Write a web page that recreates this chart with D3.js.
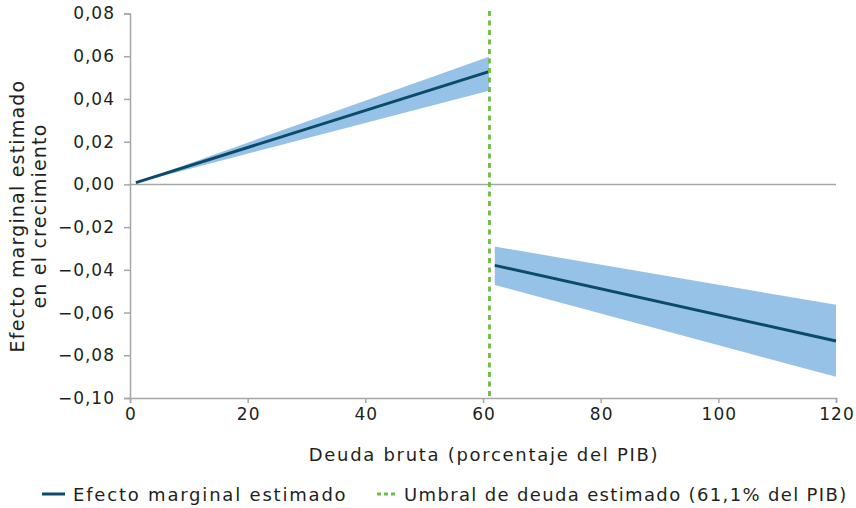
<!DOCTYPE html>
<html>
<head>
<meta charset="utf-8">
<script src="https://cdn.jsdelivr.net/npm/d3@7"></script>
<style>
  html, body { margin: 0; padding: 0; background: #fff; }
  svg { display: block; font-family: "DejaVu Sans", sans-serif; }
</style>
</head>
<body>
<svg id="chart" width="856" height="508"></svg>
<script>
// Estimated marginal effect of gross debt on growth, two regimes split at the threshold
const debtBelow = [1, 61];          // debt (% of GDP), segment below threshold
const effectBelow = [0.0008, 0.0528];
const lowerBelow = [0.0007, 0.0438];
const upperBelow = [0.0009, 0.0598];

const debtAbove = [62, 120];        // debt (% of GDP), segment above threshold
const effectAbove = [-0.0379, -0.0733];
const lowerAbove = [-0.0471, -0.0901];
const upperAbove = [-0.0291, -0.0564];

const threshold = 61.1;

const xTicks = [0, 20, 40, 60, 80, 100, 120];
const yTicks = [0.08, 0.06, 0.04, 0.02, 0.00, -0.02, -0.04, -0.06, -0.08, -0.10];

const legendLabels = ["Efecto marginal estimado", "Umbral de deuda estimado (61,1% del PIB)"];

const colors = { line: "#0b4a6a", band: "#97c2e7", threshold: "#6cbd45", axis: "#a6a6a6", text: "#231f20" };
const fontFamily = "\"DejaVu Sans\", sans-serif";

const svg = d3.select("#chart");
const x = d3.scaleLinear().domain([0, 120]).range([130, 836]);
const y = d3.scaleLinear().domain([-0.10, 0.08]).range([398, 13.5]);

const fmt = v => d3.format(".2f")(v).replace(".", ",").replace("-", "\u2212");

function segment(debt, eff, lo, hi) {
  return debt.map((d, i) => ({ x: d, y: eff[i], lo: lo[i], hi: hi[i] }));
}
const segments = [
  segment(debtBelow, effectBelow, lowerBelow, upperBelow),
  segment(debtAbove, effectAbove, lowerAbove, upperAbove)
];

// confidence bands
const area = d3.area().x(d => x(d.x)).y0(d => y(d.lo)).y1(d => y(d.hi));
svg.selectAll("path.band").data(segments).join("path")
  .attr("class", "band").attr("d", area).attr("fill", colors.band);

// zero line
svg.append("line")
  .attr("x1", x(0)).attr("x2", x(120)).attr("y1", y(0)).attr("y2", y(0))
  .attr("stroke", colors.axis).attr("stroke-width", 1.5);

// y axis
const yAxis = svg.append("g").attr("transform", `translate(${x(0)},0)`)
  .call(d3.axisLeft(y).tickValues(yTicks).tickSize(6).tickPadding(10).tickFormat(fmt));
// x axis
const xAxis = svg.append("g").attr("transform", `translate(0,${y(-0.10)})`)
  .call(d3.axisBottom(x).tickValues(xTicks).tickSize(5).tickPadding(5).tickFormat(d3.format("d")));

[yAxis, xAxis].forEach(g => {
  g.select(".domain").attr("stroke", colors.axis).attr("stroke-width", 1.5);
  g.selectAll(".tick line").attr("stroke", colors.axis).attr("stroke-width", 1.5);
  g.selectAll(".tick text").attr("fill", colors.text).style("font-size", "17px")
    .style("letter-spacing", "1px").style("font-family", fontFamily);
});
// keep x tick labels centred despite the trailing letter spacing
xAxis.selectAll(".tick text").attr("dx", "0.5px");
yAxis.selectAll(".tick text").attr("dx", "1px");

// estimated effect lines
const line = d3.line().x(d => x(d.x)).y(d => y(d.y));
svg.selectAll("path.effect").data(segments).join("path")
  .attr("class", "effect").attr("d", line).attr("fill", "none")
  .attr("stroke", colors.line).attr("stroke-width", 3);

// threshold
svg.append("line")
  .attr("x1", x(threshold)).attr("x2", x(threshold)).attr("y1", 11).attr("y2", y(-0.10))
  .attr("stroke", colors.threshold).attr("stroke-width", 2.8).attr("stroke-dasharray", "5,4.5");

// axis titles
svg.append("text").attr("x", x(60) + 1).attr("y", 461).attr("text-anchor", "middle")
  .attr("fill", colors.text).style("font-size", "18px").style("letter-spacing", "1.7px")
  .text("Deuda bruta (porcentaje del PIB)");

const yTitle = svg.append("text").attr("transform", "translate(0,216) rotate(-90)")
  .attr("text-anchor", "middle").attr("fill", colors.text)
  .style("font-size", "19px").style("letter-spacing", "1.2px");
yTitle.append("tspan").attr("x", 0).attr("y", 24).text("Efecto marginal estimado");
yTitle.append("tspan").attr("x", 0).attr("y", 46).text("en el crecimiento");

// legend
const lg = svg.append("g").attr("transform", "translate(0,494)");
lg.append("line").attr("x1", 42).attr("x2", 65).attr("y1", 0).attr("y2", 0)
  .attr("stroke", colors.line).attr("stroke-width", 3);
lg.append("text").attr("x", 73).attr("y", 6.5).attr("fill", colors.text)
  .style("font-size", "18px").style("letter-spacing", "1.8px").text(legendLabels[0]);
lg.append("line").attr("x1", 377).attr("x2", 397).attr("y1", 0).attr("y2", 0)
  .attr("stroke", colors.threshold).attr("stroke-width", 2.8).attr("stroke-dasharray", "4,3");
lg.append("text").attr("x", 404).attr("y", 6.5).attr("fill", colors.text)
  .style("font-size", "18px").style("letter-spacing", "1.35px").text(legendLabels[1]);
</script>
</body>
</html>
